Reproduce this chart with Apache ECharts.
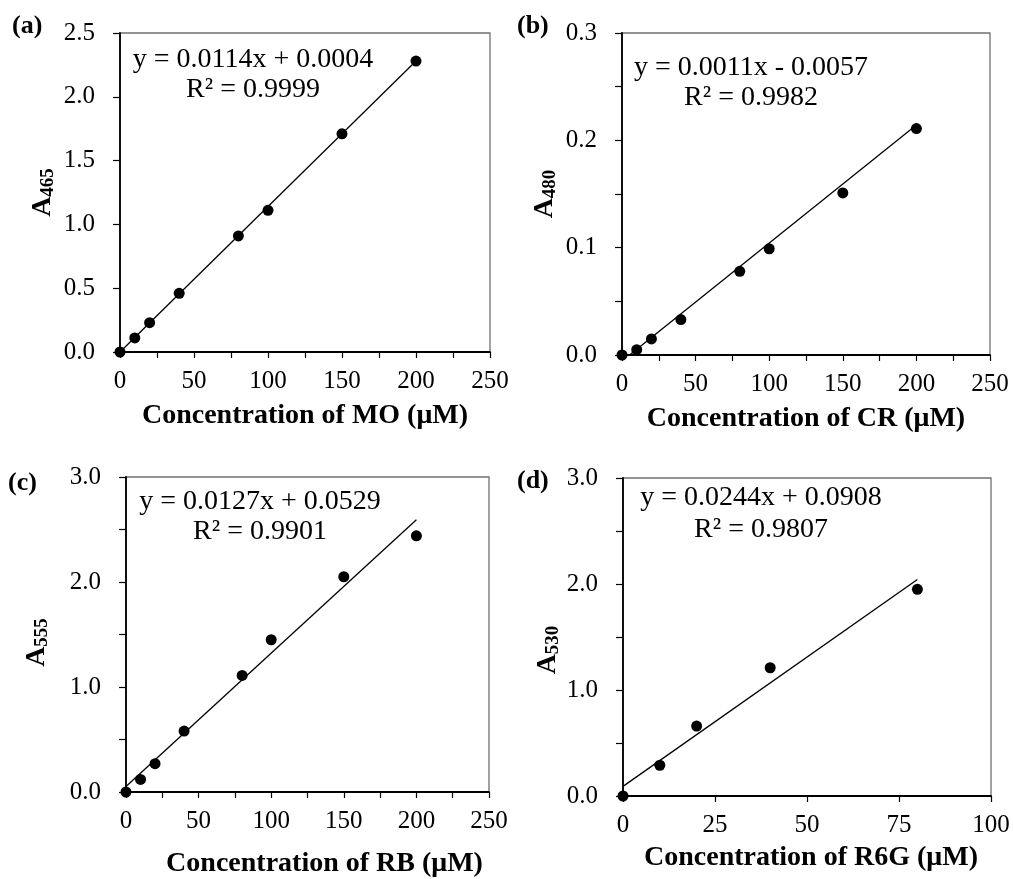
<!DOCTYPE html>
<html><head><meta charset="utf-8">
<script src="https://cdn.jsdelivr.net/npm/echarts@6/dist/echarts.min.js"></script>
<style>html,body{margin:0;padding:0;background:#fff}#c{width:1013px;height:879px}</style>
</head><body><div id="c"></div>
<script>
// ---- data ----
const concMO = [0, 10, 20, 40, 80, 100, 150, 200];
const absMO = [0, 0.11, 0.23, 0.46, 0.91, 1.11, 1.71, 2.28];
const concCR = [0, 10, 20, 40, 80, 100, 150, 200];
const absCR = [0, 0.005, 0.015, 0.033, 0.078, 0.099, 0.151, 0.211];
const concRB = [0, 10, 20, 40, 80, 100, 150, 200];
const absRB = [0, 0.12, 0.27, 0.58, 1.11, 1.45, 2.05, 2.44];
const concR6G = [0, 10, 20, 40, 80];
const absR6G = [0, 0.29, 0.66, 1.21, 1.95];

const slopes = [0.0114, 0.0011, 0.0127, 0.0244];
const intercepts = [0.0004, -0.0057, 0.0529, 0.0908];
const fitFrom = [0, 0, 0, 0];
const fitTo = [200, 200, 200, 80];
const eqTexts = ['y = 0.0114x + 0.0004', 'y = 0.0011x - 0.0057', 'y = 0.0127x + 0.0529', 'y = 0.0244x + 0.0908'];
const r2Texts = ['R² = 0.9999', 'R² = 0.9982', 'R² = 0.9901', 'R² = 0.9807'];
const panelLabels = ['(a)', '(b)', '(c)', '(d)'];
const xTitles = ['Concentration of MO (μM)', 'Concentration of CR (μM)', 'Concentration of RB (μM)', 'Concentration of R6G (μM)'];
const ySubs = ['465', '480', '555', '530'];
const xMax = [250, 250, 250, 100];
const xInterval = [25, 25, 25, 25];
const xLabelStep = [50, 50, 50, 25];
const yMax = [2.5, 0.3, 3.0, 3.0];
const yInterval = [0.5, 0.05, 0.5, 0.5];
const yLabelStep = [0.5, 0.1, 1.0, 1.0];

// ---- layout ----
const F = '"Liberation Serif", "Times New Roman", serif';
const grids = [
  {left: 120, top: 33, width: 370, height: 319},
  {left: 622, top: 33, width: 368, height: 322},
  {left: 126, top: 477, width: 363, height: 315},
  {left: 623, top: 478, width: 368, height: 318}
];
const eqPos = [[253, 60, 90], [751, 68, 98], [260, 502, 532], [761, 498, 530]];
const labelPos = [[12, 27], [517, 27], [8, 484], [517, 482]];
const xNamePad = [[0,0,0,0],[0,0,0,0],[0,0,0,34],[0,0,0,8]];
const xNameGap = [50, 50, 58, 48];
const yNameGap = [62, 62, 74, 60];
const yNamePad = [[0,0,0,0],[0,0,0,0],[0,16,0,0],[0,26,0,0]];

const datasets = [[concMO, absMO], [concCR, absCR], [concRB, absRB], [concR6G, absR6G]];

function isStep(v, s) { const r = v / s; return Math.abs(r - Math.round(r)) < 1e-6; }

const option = {
  animation: false,
  backgroundColor: '#fff',
  grid: grids.map(g => Object.assign({show: true, borderColor: '#707070', borderWidth: 1.3, containLabel: false, outerBoundsMode: 'none'}, g)),
  xAxis: grids.map((g, i) => ({
    gridIndex: i, type: 'value', min: 0, max: xMax[i], interval: xInterval[i],
    axisLine: {show: true, onZero: false, lineStyle: {color: '#000', width: 1.8}},
    axisTick: {show: true, inside: false, length: 6, lineStyle: {color: '#000', width: 1.2}},
    axisLabel: {show: true, showMinLabel: true, showMaxLabel: true, margin: 17, color: '#000', fontFamily: F, fontSize: 25,
      formatter: v => isStep(v, xLabelStep[i]) ? String(Math.round(v)) : ''},
    splitLine: {show: false},
    name: xTitles[i], nameLocation: 'middle', nameGap: xNameGap[i],
    nameTextStyle: {color: '#000', fontFamily: F, fontSize: 28, fontWeight: 'bold', padding: xNamePad[i]}
  })),
  yAxis: grids.map((g, i) => ({
    gridIndex: i, type: 'value', min: 0, max: yMax[i], interval: yInterval[i],
    axisLine: {show: true, onZero: false, lineStyle: {color: '#000', width: 1.8}},
    axisTick: {show: true, inside: false, length: 7, lineStyle: {color: '#000', width: 1.2}},
    axisLabel: {show: true, showMinLabel: true, showMaxLabel: true, margin: 25, color: '#000', fontFamily: F, fontSize: 25,
      formatter: v => isStep(v, yLabelStep[i]) ? v.toFixed(1) : ''},
    splitLine: {show: false},
    name: '{a|A}{s|' + ySubs[i] + '}', nameLocation: 'middle', nameGap: yNameGap[i], nameRotate: 90,
    nameTextStyle: {color: '#000', fontFamily: F, padding: yNamePad[i], rich: {
      a: {fontFamily: F, fontSize: 28, fontWeight: 'bold', color: '#000', lineHeight: 30},
      s: {fontFamily: F, fontSize: 19, fontWeight: 'bold', color: '#000', lineHeight: 14, verticalAlign: 'bottom'}
    }}
  })),
  series: [],
  graphic: []
};

datasets.forEach((d, i) => {
  const [xs, ys] = d;
  option.series.push({
    type: 'line', xAxisIndex: i, yAxisIndex: i, silent: true, showSymbol: false, clip: true, z: 2,
    lineStyle: {color: '#000', width: 1.3},
    data: [[fitFrom[i], slopes[i] * fitFrom[i] + intercepts[i]], [fitTo[i], slopes[i] * fitTo[i] + intercepts[i]]]
  });
  option.series.push({
    type: 'scatter', xAxisIndex: i, yAxisIndex: i, symbol: 'circle', symbolSize: 11, z: 3, clip: false,
    itemStyle: {color: '#000', opacity: 1},
    data: xs.map((x, k) => [x, ys[k]])
  });
  option.graphic.push({type: 'text', left: labelPos[i][0], top: labelPos[i][1] - 14,
    style: {text: panelLabels[i], fontFamily: F, fontSize: 26, fontWeight: 'bold', fill: '#000'}});
  option.graphic.push({type: 'text', x: eqPos[i][0], y: eqPos[i][1],
    style: {text: eqTexts[i], fontFamily: F, fontSize: 28, fill: '#000', align: 'center', verticalAlign: 'middle'}});
  option.graphic.push({type: 'text', x: eqPos[i][0], y: eqPos[i][2],
    style: {text: r2Texts[i], fontFamily: F, fontSize: 28, fill: '#000', align: 'center', verticalAlign: 'middle'}});
});

const chart = echarts.init(document.getElementById('c'), null, {renderer: 'canvas'});
chart.setOption(option);
</script>
</body></html>
